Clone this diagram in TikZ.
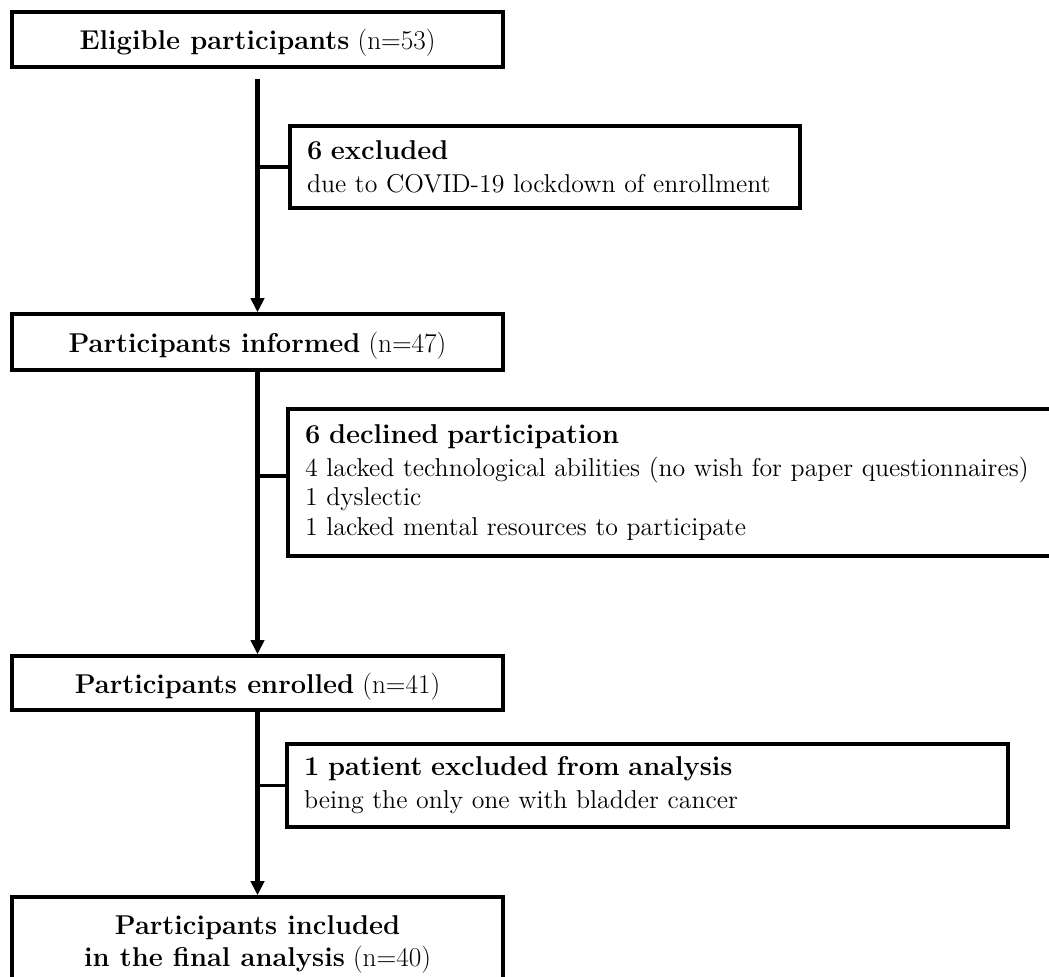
\documentclass[tikz,border=0pt]{standalone}
\usepackage{tikz}
\usetikzlibrary{arrows.meta}

\newcommand{\headtxt}[1]{{\fontsize{15.5}{18}\selectfont\bfseries #1}}

\begin{document}
\begin{tikzpicture}[
    x=0.02cm, y=-0.02cm,
    font=\fontsize{14.7}{16.8}\selectfont,
    >={Triangle[length=8pt,width=7.5pt]},
    box/.style={draw, line width=2pt, align=center, minimum width=9.82cm, inner sep=0pt, text depth=0pt, font=\fontsize{15.5}{18.5}\selectfont},
    sidebox/.style={draw, line width=2pt, align=left, inner xsep=0.34cm, inner ysep=0pt},
    arrow/.style={->, line width=2.3pt},
    branch/.style={line width=2pt}
]
\useasboundingbox (0,0) rectangle (1049,977);
\clip (0,0) rectangle (1049,977);

% main column
\node[box, minimum height=1.1cm] (eligible) at (257.5,39.5) {\textbf{Eligible participants} (n=53)};
\node[box, minimum height=1.12cm] (informed) at (257.5,342) {\textbf{Participants informed} (n=47)};
\node[box, minimum height=1.08cm] (enrolled) at (257.5,683) {\textbf{Participants enrolled} (n=41)};
\node[box, minimum height=1.76cm] (included) at (257.5,941) {\textbf{Participants included}\\\textbf{in the final analysis} (n=40)};

% side boxes
\node[sidebox, minimum width=10.2cm, minimum height=1.64cm, text width=9.52cm] (excluded) at (545,167)
    {\headtxt{6 excluded}\\[2pt]due to COVID-19 lockdown of enrollment};
\node[sidebox, minimum width=15.28cm, minimum height=2.94cm, text width=14.6cm] (declined) at (670,482.5)
    {\headtxt{6 declined participation}\\[2pt]4 lacked technological abilities (no wish for paper questionnaires)\\1 dyslectic\\1 lacked mental resources to participate};
\node[sidebox, minimum width=14.42cm, minimum height=1.66cm, text width=13.74cm] (dropped) at (647.5,785.5)
    {\headtxt{1 patient excluded from analysis}\\[2pt]being the only one with bladder cancer};

\draw[arrow, shorten <=0.2cm] (eligible.south) -- (informed.north);
\draw[arrow] (informed.south) -- (enrolled.north);
\draw[arrow] (enrolled.south) -- (included.north);

\coordinate (dj) at ([yshift=0.13cm]declined.west);
\draw[branch] (excluded.west) -- (excluded.west -| eligible.south);
\draw[branch] (dj) -- (dj -| informed.south);
\draw[branch] (dropped.west) -- (dropped.west -| enrolled.south);
\end{tikzpicture}
\end{document}
